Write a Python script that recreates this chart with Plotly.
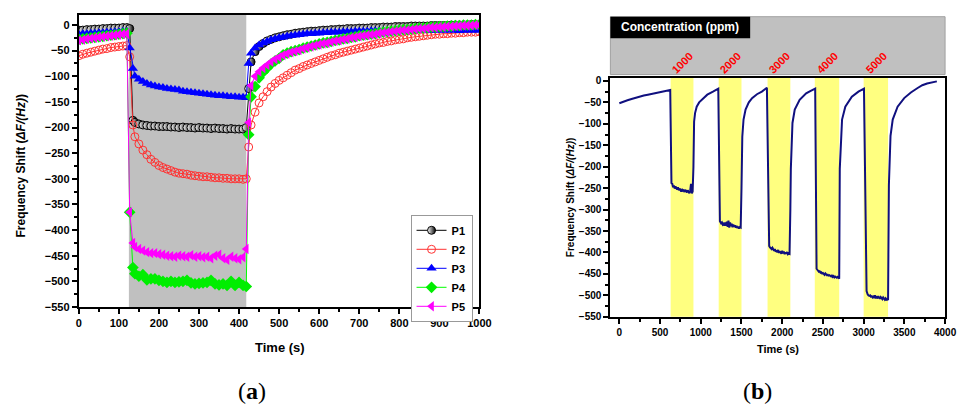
import plotly.graph_objects as go

# ---------------- Panel (a) data ----------------
t_a = [0, 10, 20, 30, 40, 50, 60, 70, 80, 90, 100, 110, 120,
       127, 135,
       140, 150, 160, 170, 180, 190, 200, 210, 220, 230,
       240, 250, 260, 270, 280, 290, 300, 310, 320, 330,
       340, 350, 360, 370, 380, 390, 400, 410,
       418, 424,
       430, 440, 450, 460, 470, 480, 490, 500, 510, 520,
       530, 540, 550, 560, 570, 580, 590, 600, 610, 620,
       630, 640, 650, 660, 670, 680, 690, 700, 710, 720,
       730, 740, 750, 760, 770, 780, 790, 800, 810, 820,
       830, 840, 850, 860, 870, 880, 890, 900, 910, 920,
       930, 940, 950, 960, 970, 980, 990, 1000]

p1 = [-10, -10, -9, -9, -8, -8, -7, -7, -6, -6, -6, -5, -5,
      -7, -186,
      -190, -193, -195, -196, -197, -197, -198, -198, -198, -199,
      -199, -200, -199, -200, -200, -201, -200, -201, -201, -202,
      -201, -202, -202, -203, -202, -203, -203, -203,
      -200, -124,
      -72, -52, -42, -36, -31, -28, -25, -23, -21, -19,
      -18, -16, -15, -14, -13, -12, -12, -11, -10, -10,
      -9, -9, -8, -8, -7, -7, -7, -6, -6, -6,
      -5, -5, -5, -4, -4, -4, -3, -3, -3, -3,
      -2, -2, -2, -2, -2, -1, -1, -1, -1, -1,
      0, 0, 0, 0, 0, 1, 1, 1]

p2 = [-60, -57, -55, -53, -51, -49, -47, -46, -44, -43, -42, -41, -40,
      -62, -195,
      -218, -232, -244, -253, -262, -268, -274, -278, -281, -284,
      -287, -289, -290, -291, -293, -294, -295, -296, -296, -297,
      -298, -298, -299, -299, -300, -300, -300, -301,
      -300, -238,
      -195, -170, -152, -140, -130, -121, -114, -108, -103, -98,
      -93, -88, -85, -81, -78, -75, -72, -69, -66, -63,
      -60, -58, -55, -53, -51, -49, -47, -45, -43, -41,
      -39, -37, -35, -34, -32, -31, -29, -28, -27, -25,
      -24, -23, -22, -21, -20, -19, -18, -18, -17, -17,
      -16, -16, -15, -15, -14, -14, -14, -13]

p3 = [-18, -17, -17, -16, -16, -15, -15, -14, -14, -13, -13, -12, -12,
      -45, -85,
      -100, -106, -110, -114, -117, -119, -121, -122, -124, -125,
      -126, -127, -129, -130, -131, -132, -133, -134, -135, -136,
      -137, -138, -138, -139, -140, -140, -141, -141,
      -142, -75,
      -55, -45, -39, -35, -32, -29, -27, -25, -24, -22,
      -21, -20, -19, -18, -17, -17, -16, -16, -15, -15,
      -14, -14, -14, -13, -13, -13, -12, -12, -12, -12,
      -11, -11, -11, -11, -11, -10, -10, -10, -10, -10,
      -10, -11, -10, -10, -10, -11, -10, -10, -10, -10,
      -10, -10, -11, -10, -10, -10, -10, -10]

p4 = [-28, -27, -26, -25, -24, -23, -22, -21, -20, -19, -18, -17, -16,
      -365, -473,
      -485, -490, -487, -497, -495, -495, -498, -500, -502, -500,
      -502, -501, -500, -498, -503, -505, -504, -503, -502, -498,
      -505, -507, -505, -508, -500, -508, -502, -508,
      -510, -214,
      -140, -120, -103, -92, -84, -76, -70, -65, -58, -55,
      -52, -50, -48, -45, -43, -41, -39, -37, -35, -34,
      -32, -30, -29, -27, -26, -24, -23, -21, -20, -19,
      -18, -17, -15, -14, -13, -12, -11, -10, -9, -9,
      -8, -7, -6, -6, -5, -4, -4, -3, -3, -2,
      -2, -1, -1, 0, 0, 0, 1, 1]

p5 = [-30, -29, -27, -26, -25, -24, -23, -22, -21, -20, -19, -18, -17,
      -365, -425,
      -433, -437, -440, -443, -445, -445, -447, -448, -450, -451,
      -452, -450, -451, -452, -449, -452, -451, -453, -452, -455,
      -450, -448, -455, -458, -452, -455, -457, -453,
      -437, -190,
      -118, -100, -91, -84, -78, -72, -67, -63, -59, -56,
      -53, -51, -49, -46, -44, -42, -40, -38, -36, -35,
      -33, -31, -30, -28, -27, -25, -24, -22, -21, -20,
      -19, -18, -16, -15, -14, -13, -12, -11, -10, -10,
      -9, -8, -7, -7, -6, -5, -5, -4, -4, -3,
      -3, -2, -2, -1, -1, -1, 0, 0]

series_names = ["P1", "P2", "P3", "P4", "P5"]
exposure_a = [125, 418]

# ---------------- Panel (b) data ----------------
t_b = [0, 50, 100, 150, 200, 250, 300, 350, 400, 450, 500, 550, 600, 625,
       640,
       650, 660, 670, 680, 690, 700, 710, 720, 730, 740, 750, 760, 770,
       780, 790, 800, 810, 820, 830, 840, 850, 860, 870, 880, 890, 900,
       910, 918, 930, 950, 980, 1030, 1080, 1150, 1215,
       1235,
       1250, 1260, 1270, 1280, 1290, 1300, 1310, 1320, 1330, 1340,
       1350, 1360, 1370, 1380, 1390, 1400, 1410, 1420, 1430, 1440,
       1450, 1460, 1470, 1480, 1490,
       1500, 1510, 1525, 1550, 1590, 1630, 1690, 1750, 1812,
       1832,
       1840, 1850, 1860, 1870, 1880, 1890, 1900, 1910, 1920, 1930,
       1940, 1950, 1960, 1970, 1980, 1990, 2000, 2010, 2020, 2030,
       2040, 2050, 2060, 2070, 2080, 2090,
       2100, 2106, 2126, 2154, 2214, 2294, 2350, 2405,
       2422,
       2430, 2440, 2450, 2460, 2470, 2480, 2490, 2500, 2510, 2520,
       2530, 2540, 2550, 2560, 2570, 2580, 2590, 2600, 2610, 2620,
       2630, 2640, 2650, 2660, 2670, 2680, 2690,
       2700, 2707, 2735, 2775, 2855, 2936, 3004,
       3036,
       3040, 3050, 3060, 3070, 3080, 3090, 3100, 3110, 3120, 3130,
       3140, 3150, 3160, 3170, 3180, 3190, 3200, 3210, 3220, 3230,
       3240, 3250, 3260, 3270, 3280, 3290,
       3300, 3310, 3330, 3357, 3417, 3498, 3580, 3658, 3720, 3779, 3840, 3899]

f_b = [-52, -48, -45, -42, -39, -37, -34, -32, -30, -28, -26, -24, -22, -21,
       -238,
       -240, -248, -244, -251, -246, -250, -253, -248, -255, -251, -254, -258, -252,
       -256, -255, -259, -254, -257, -260, -255, -259, -262, -256, -240, -262, -258,
       -200, -95, -75, -60, -50, -40, -32, -25, -18,
       -327,
       -332, -330, -335, -333, -337, -330, -338, -328, -340, -326,
       -342, -330, -339, -333, -341, -335, -340, -337, -342, -338,
       -343, -340, -344, -341, -342,
       -250, -130, -90, -67, -50, -40, -31, -25, -16,
       -380,
       -385, -388, -390, -392, -389, -394, -396, -392, -398, -395,
       -400, -394, -401, -397, -399, -403, -396, -402, -398, -404,
       -400, -403, -399, -404, -402, -403,
       -300, -205, -98, -67, -44, -29, -23, -18,
       -438,
       -440, -443, -445, -444, -447, -446, -449, -448, -450, -452,
       -449, -451, -453, -452, -454, -453, -455, -456, -454, -457,
       -455, -458, -456, -458, -459, -457, -460,
       -461, -205, -90, -60, -37, -25, -18,
       -490,
       -495, -498, -500, -501, -500, -503, -502, -505, -503, -506,
       -500, -505, -504, -507, -502, -506, -508, -504, -507, -509,
       -505, -508, -510, -507, -510, -509,
       -511, -243, -128, -90, -60, -40, -27, -17, -10, -6, -3, -1]

band_starts = [630, 1220, 1820, 2400, 3000]
band_ends = [910, 1500, 2100, 2700, 3300]
conc_labels = ["1000", "2000", "3000", "4000", "5000"]

# ---------------- Figure ----------------
W, H = 962, 414
FONT = "Liberation Sans, Arial, sans-serif"


def px(x):
    return min(max(x / W, 0.0), 1.0)


def py(y):
    return min(max(1 - y / H, 0.0), 1.0)


fig = go.Figure()

styles = [
    dict(color="black", marker=dict(symbol="circle", size=8, color="white",
                                     line=dict(color="black", width=1),
                                     gradient=dict(type="horizontal", color="black"))),
    dict(color="#ff3333", marker=dict(symbol="circle-open", size=8, color="#ff3333",
                                      line=dict(width=1))),
    dict(color="blue", marker=dict(symbol="triangle-up", size=9, color="blue")),
    dict(color="#00ff00", marker=dict(symbol="diamond", size=9, color="#00ee00")),
    dict(color="#ff00ff", marker=dict(symbol="triangle-left", size=9, color="#ff00ff")),
]
for name, ys, st in zip(series_names, [p1, p2, p3, p4, p5], styles):
    fig.add_trace(go.Scatter(x=t_a, y=ys, name=name, mode="lines+markers",
                             line=dict(color=st["color"], width=1),
                             marker=st["marker"], xaxis="x", yaxis="y"))

fig.add_trace(go.Scatter(x=t_b, y=f_b, mode="lines", showlegend=False,
                         line=dict(color="#10107f", width=2),
                         xaxis="x2", yaxis="y2"))

shapes = [dict(type="rect", xref="x", yref="y domain", x0=exposure_a[0], x1=exposure_a[1],
               y0=0, y1=1, fillcolor="#c0c0c0", line=dict(width=0), layer="below")]
for s, e in zip(band_starts, band_ends):
    shapes.append(dict(type="rect", xref="x2", yref="y2 domain", x0=s, x1=e, y0=0, y1=1,
                       fillcolor="#ffff80", line=dict(width=0), layer="below"))
# top gray concentration panel
shapes.append(dict(type="rect", xref="paper", yref="paper",
                   x0=px(617), x1=px(957), y0=py(74), y1=py(15),
                   fillcolor="#c0c0c0", line=dict(color="#a0a0a0", width=1)))
shapes.append(dict(type="rect", xref="paper", yref="paper",
                   x0=px(617), x1=px(759), y0=py(37), y1=py(15),
                   fillcolor="black", line=dict(width=0)))


def ann(text, x, y, size, color="black", angle=0, family=FONT, weight="bold", xref="paper"):
    return dict(text=text, x=x, y=y, xref=xref, yref="paper", xanchor="center",
                yanchor="middle", textangle=angle, showarrow=False,
                font=dict(size=size, family=family, weight=weight, color=color))


annotations = [
    ann("Time (s)", px(281), py(352), 13),
    ann("Frequency Shift (<i>ΔF/(Hz)</i>)", px(18), py(167), 12, angle=-90),
    ann("Time (s)", px(787), py(354), 11),
    ann("Frequency Shift (<i>ΔF/(Hz)</i>)", px(576), py(199), 10, angle=-90),
    ann("Concentration (ppm)", px(688), py(26), 12, color="white"),
    ann("(<b>a</b>)", px(253), py(397), 24, family="Liberation Serif, serif", weight="normal"),
    ann("(<b>b</b>)", px(766), py(397), 24, family="Liberation Serif, serif", weight="normal"),
]
for s, e, lab in zip(band_starts, band_ends, conc_labels):
    annotations.append(ann(lab, (s + e) / 2, py(62), 11, color="red", angle=-45, xref="x2"))

axis_common = dict(showline=True, linewidth=2, linecolor="black", mirror=True,
                   ticks="outside", ticklen=5, tickwidth=1.5, tickcolor="black",
                   showgrid=False, zeroline=False)

fig.update_layout(
    width=W, height=H, autosize=False,
    margin=dict(l=0, r=0, t=0, b=0),
    paper_bgcolor="white", plot_bgcolor="white",
    font=dict(family=FONT, color="black"),
    xaxis=dict(domain=[px(77), px(484)], anchor="y", range=[0, 1000],
               tickmode="linear", tick0=0, dtick=100,
               minor=dict(ticks="outside", ticklen=3, dtick=50, tickcolor="black"),
               tickfont=dict(size=11, family=FONT, weight="bold"), **axis_common),
    yaxis=dict(domain=[py(311), py(13)], anchor="x", range=[-550, 20],
               tickmode="linear", tick0=0, dtick=50,
               minor=dict(ticks="outside", ticklen=3, dtick=25, tickcolor="black"),
               tickfont=dict(size=11, family=FONT, weight="bold"), **axis_common),
    xaxis2=dict(domain=[px(617), px(957)], anchor="y2", range=[-110, 4000],
                tickmode="linear", tick0=0, dtick=500,
                minor=dict(ticks="outside", ticklen=3, dtick=250, tickcolor="black"),
                tickfont=dict(size=10, family=FONT, weight="bold"), **axis_common),
    yaxis2=dict(domain=[py(321), py(77)], anchor="x2", range=[-550, 8],
                tickmode="linear", tick0=0, dtick=50,
                minor=dict(ticks="outside", ticklen=3, dtick=25, tickcolor="black"),
                tickfont=dict(size=10, family=FONT, weight="bold"), **axis_common),
    legend=dict(x=px(414), y=py(217), xanchor="left", yanchor="top",
                bgcolor="white", bordercolor="#999999", borderwidth=1,
                font=dict(size=11, family=FONT, weight="bold"), tracegroupgap=0),
    shapes=shapes,
    annotations=annotations,
)

fig.write_html("out.html", config={"displayModeBar": False},
               post_script="document.body.style.margin='0px';"
                           "document.body.style.overflow='hidden';")
